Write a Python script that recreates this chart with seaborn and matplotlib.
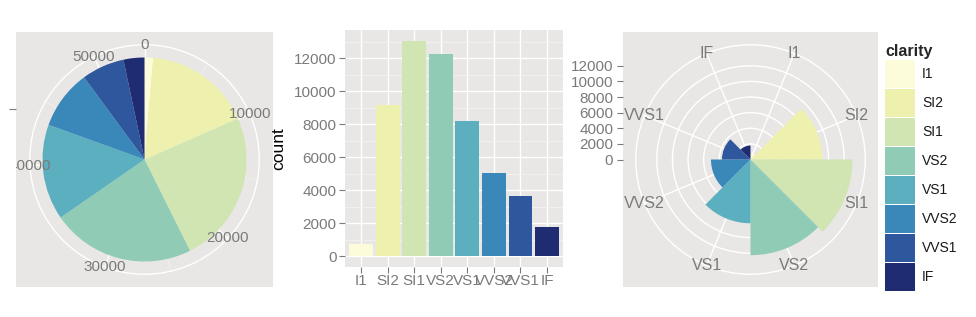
import numpy as np
import pandas as pd
import matplotlib
matplotlib.use("Agg")
import matplotlib.pyplot as plt
import seaborn as sns
from matplotlib.patches import Patch

# ---- data ----
clarity = ["I1", "SI2", "SI1", "VS2", "VS1", "VVS2", "VVS1", "IF"]
counts = [741, 9194, 13065, 12258, 8171, 5066, 3655, 1790]
colors = ["#FDFCDA", "#EEF0AE", "#D0E5B1", "#8FCBB5", "#5BAFBE", "#3A88B9", "#2E579D", "#1F2C72"]
pie_ticks = [0, 10000, 20000, 30000, 40000, 50000]
pie_minor = [5000, 15000, 25000, 35000, 45000]
count_ticks = [0, 2000, 4000, 6000, 8000, 10000, 12000]
count_minor = [1000, 3000, 5000, 7000, 9000, 11000, 13000]

sns.set_style("darkgrid")
plt.rcParams['font.family'] = ['Liberation Sans', 'DejaVu Sans']

PANEL = "#E8E7E5"
GREY = "#7A7A7A"
W, H = 976, 317

fig = plt.figure(figsize=(W / 100, H / 100), dpi=100)
fig.patch.set_facecolor("white")


def rect(x0, y0, x1, y1):
    return [x0 / W, 1 - y1 / H, (x1 - x0) / W, (y1 - y0) / H]


def style_bg(ax):
    ax.set_facecolor(PANEL)
    for s in ax.spines.values():
        s.set_visible(False)
    ax.grid(False)
    ax.set_xticks([])
    ax.tick_params(axis="y", length=4, width=0.8, color=GREY, labelcolor=GREY,
                   labelsize=11, pad=3, left=True)


def style_polar(ax, rmax):
    ax.set_facecolor("none")
    ax.patch.set_visible(False)
    ax.set_theta_zero_location("N")
    ax.set_theta_direction(-1)
    ax.set_ylim(0, rmax)
    ax.spines["polar"].set_visible(False)
    ax.set_xticks([])
    ax.set_yticklabels([])
    ax.grid(True, axis="y", color="white", linewidth=1)
    ax.set_axisbelow(True)


total = float(np.sum(counts))

# ---- pie ----
r_pie = rect(16, 32, 273, 287)
bgp = fig.add_axes(r_pie)
style_bg(bgp)
bgp.set_ylim(-1.25, 1.25)
bgp.set_yticks([0.5])
bgp.set_yticklabels([""])
bgp.tick_params(axis="y", length=5)

pp = fig.add_axes(r_pie, projection="polar")
style_polar(pp, 1.25)
pp.set_yticks([0.5, 1.125])
pp.set_yticklabels([])
starts = np.concatenate([[0], np.cumsum(counts)[:-1]])
pp.vlines(np.array(pie_minor) / total * 2 * np.pi, 0, 1.125, color="#F1F1F0", lw=0.6, zorder=0.5)
pp.vlines(np.array(pie_ticks) / total * 2 * np.pi, 0, 1.125, color="white", lw=1, zorder=0.6)
pp.bar(starts / total * 2 * np.pi, 1.0, width=np.array(counts) / total * 2 * np.pi,
       align="edge", color=colors, edgecolor="none", zorder=2)
for v in pie_ticks:
    t = pp.text(v / total * 2 * np.pi, 1.125, str(v), ha="center", va="center",
                color=GREY, fontsize=11, zorder=3, clip_on=True)
    t.set_clip_path(bgp.patch)

# ---- bar chart ----
bax = fig.add_axes(rect(345, 30, 563, 267))
df = pd.DataFrame({"clarity": clarity, "count": counts})
sns.barplot(data=df, x="clarity", y="count", hue="clarity", order=clarity, hue_order=clarity,
            palette=colors, width=0.9, saturation=1, legend=False, ax=bax, zorder=2,
            linewidth=0)
bax.set_facecolor(PANEL)
for s in bax.spines.values():
    s.set_visible(False)
bax.set_xlim(-0.6, 7.6)
bax.set_ylim(-653, 13718)
bax.set_yticks(count_ticks)
bax.set_yticks(count_minor, minor=True)
bax.grid(False)
bax.grid(True, which="major", color="white", linewidth=1)
bax.grid(True, which="minor", axis="y", color="#F2F2F1", linewidth=0.6)
bax.set_axisbelow(True)
bax.tick_params(which="major", length=4, width=0.8, color=GREY, labelcolor=GREY,
                labelsize=11, pad=2, left=True, bottom=True)
bax.tick_params(axis="x", pad=1)
bax.tick_params(which="minor", length=0)
bax.set_xlabel("")
bax.set_ylabel("count", fontsize=12.5, color="black", labelpad=6)

# ---- coxcomb ----
M = max(counts)
r_rose = rect(623, 32, 878, 287)
bgr = fig.add_axes(r_rose)
style_bg(bgr)
bgr.set_ylim(-1.25 * M, 1.25 * M)
bgr.set_yticks(count_ticks)
bgr.set_yticklabels([str(v) for v in count_ticks])

rp = fig.add_axes(r_rose, projection="polar")
style_polar(rp, 1.25 * M)
rp.set_yticks(count_ticks[1:] + [1.125 * M])
rp.set_yticklabels([])
n = len(clarity)
step = 2 * np.pi / n
centers = (np.arange(n) + 0.5) * step
rp.vlines(centers, 0, 1.125 * M, color="white", lw=1, zorder=0.6)
rp.bar(np.arange(n) * step, counts, width=step, align="edge", color=colors,
       edgecolor="none", zorder=2)
for th, lab in zip(centers, clarity):
    t = rp.text(th, 1.125 * M, lab, ha="center", va="center", color=GREY,
                fontsize=11.5, zorder=3, clip_on=True)
    t.set_clip_path(bgr.patch)

# ---- legend ----
fs = 10
px = fs * 100 / 72
key_px = 28.0
hh = (key_px / px - 0.245) / 0.65
handles = [Patch(facecolor=c, edgecolor="none", label=l) for c, l in zip(colors, clarity)]
leg = fig.legend(handles=handles, loc="upper left", bbox_to_anchor=(885 / W, 1 - 44 / H),
                 frameon=False, title="clarity",
                 title_fontproperties={"weight": "bold", "size": 11.5},
                 fontsize=fs, handlelength=30 / px, handleheight=hh,
                 labelspacing=1 / px, handletextpad=7 / px, borderpad=0,
                 borderaxespad=0, alignment="left")
for txt in leg.get_texts():
    txt.set_color("#1A1A1A")

fig.savefig("out.png", dpi=100, facecolor="white")
